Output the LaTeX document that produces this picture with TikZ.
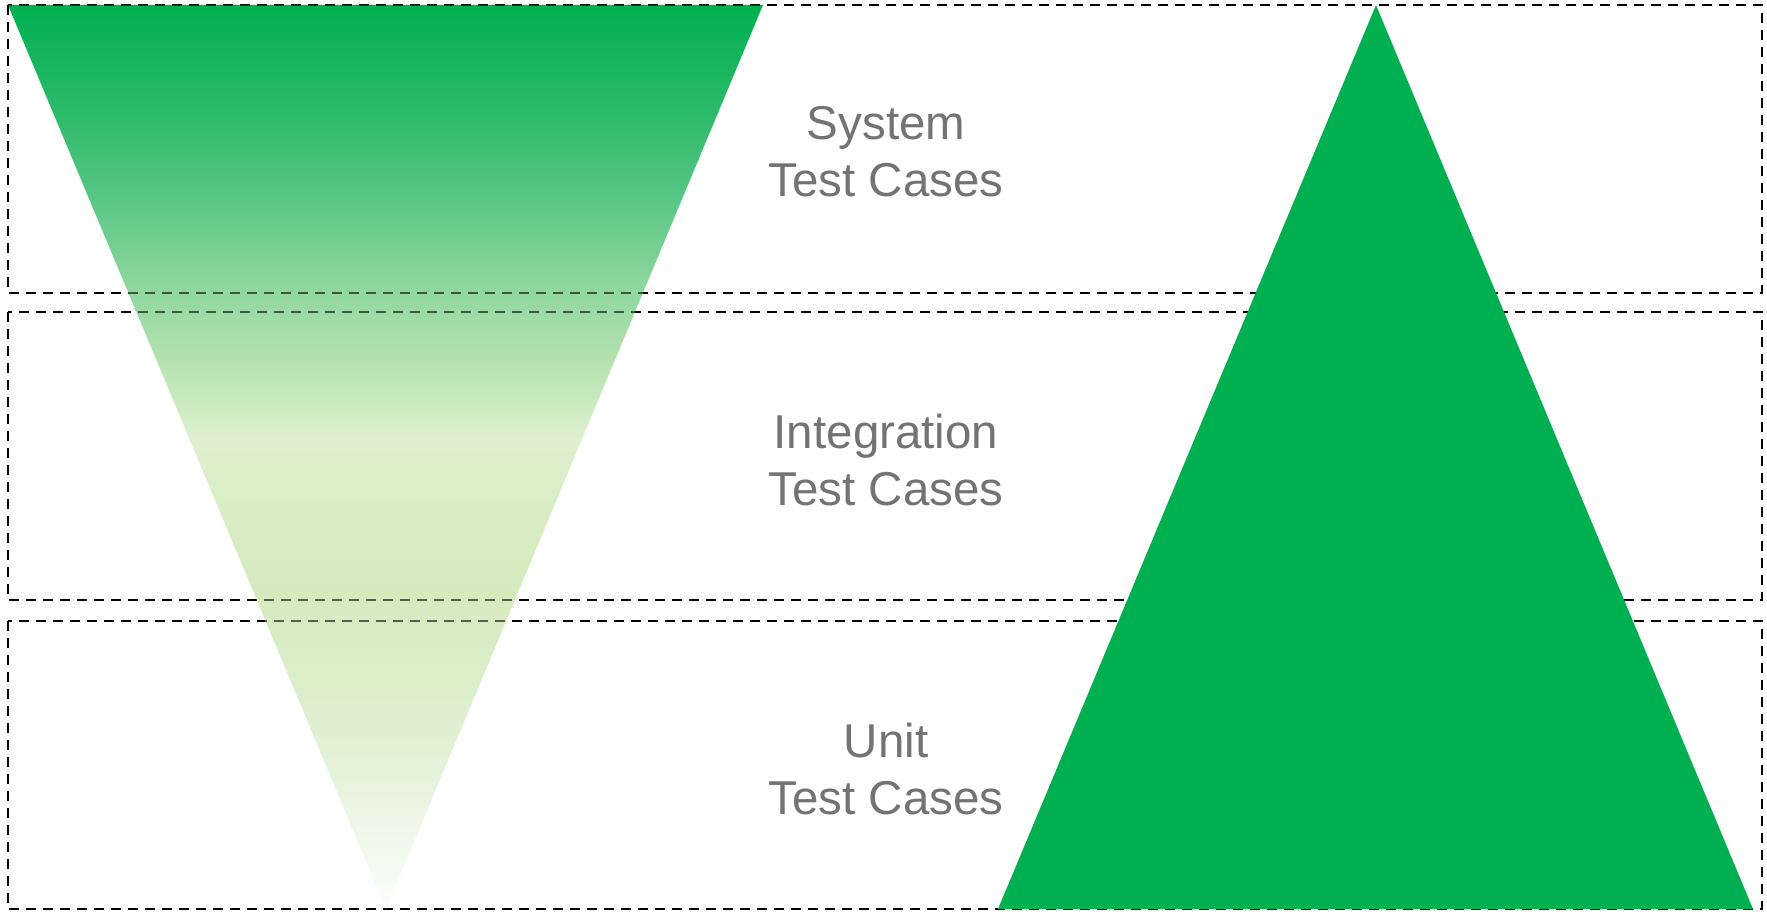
\documentclass[tikz,border=0pt]{standalone}
\usepackage{fontspec}
\setmainfont{Liberation Sans}
\definecolor{ggreen}{HTML}{00B050}
\definecolor{txtgray}{HTML}{737373}
\definecolor{g1}{HTML}{2DBA6B}
\definecolor{g2}{HTML}{55C584}
\definecolor{g3}{HTML}{8CD69E}
\definecolor{g4}{HTML}{B5E2AF}
\definecolor{g5}{HTML}{DFF0D0}
\definecolor{g6}{HTML}{D8EDC4}
\definecolor{g7}{HTML}{D5EBBE}
\definecolor{g8}{HTML}{DFF0D2}
\definecolor{g9}{HTML}{F2F9EE}
\definecolor{g10}{HTML}{FDFEFC}
\tikzset{
  levelbox/.style={draw=black, line width=2pt, dash pattern=on 10pt off 7pt},
  levelboxshadow/.style={draw=black, draw opacity=0.6, line width=2pt, dash pattern=on 10pt off 7pt},
  label/.style={text=txtgray, font=\fontsize{47.5}{57}\selectfont, align=center, inner sep=0pt, anchor=north},
}
\begin{document}
\begin{tikzpicture}[x=1pt,y=-1pt]
\fill[white] (0,0) rectangle (1767,912);
\useasboundingbox (0,0) rectangle (1767,912);
% boxes
\coordinate (b1a) at (8,5);   \coordinate (b1b) at (1762,293);
\coordinate (b2a) at (8,312); \coordinate (b2b) at (1762,600);
\coordinate (b3a) at (8,621); \coordinate (b3b) at (1762,909);
\draw[levelbox] (b1a) rectangle (b1b);
\draw[levelbox] (b2a) rectangle (b2b);
\draw[levelbox] (b3a) rectangle (b3b);
% left inverted triangle with gradient
\coordinate (lt1) at (8,5);
\coordinate (lt2) at (763,5);
\coordinate (lt3) at (386,909);
\begin{scope}
\clip (lt1) -- (lt2) -- (lt3) -- cycle;
\shade[top color=ggreen, bottom color=g1] (0,4) rectangle (800,113.5);
\shade[top color=g1, bottom color=g2] (0,113) rectangle (800,192.5);
\shade[top color=g2, bottom color=g3] (0,192) rectangle (800,282.5);
\shade[top color=g3, bottom color=g4] (0,282) rectangle (800,361.5);
\shade[top color=g4, bottom color=g5] (0,361) rectangle (800,440.5);
\shade[top color=g5, bottom color=g6] (0,440) rectangle (800,507.5);
\shade[top color=g6, bottom color=g7] (0,507) rectangle (800,597.5);
\shade[top color=g7, bottom color=g8] (0,597) rectangle (800,733.5);
\shade[top color=g8, bottom color=g9] (0,733) rectangle (800,856.5);
\shade[top color=g9, bottom color=g10] (0,856) rectangle (800,910);
\draw[levelboxshadow] (b1a) rectangle (b1b);
\draw[levelboxshadow] (b2a) rectangle (b2b);
\draw[levelboxshadow] (b3a) rectangle (b3b);
\end{scope}
% right triangle
\coordinate (rt1) at (1376,5);
\coordinate (rt2) at (1753,909);
\coordinate (rt3) at (998,909);
\fill[ggreen] (rt1) -- (rt2) -- (rt3) -- cycle;
% labels
\node[label] (sys) at (886,106.5) {System\\Test Cases};
\node[label] (int) at (886,414) {Integration\\Test Cases};
\node[label] (unit) at (886,723) {Unit\\Test Cases};
\end{tikzpicture}
\end{document}
